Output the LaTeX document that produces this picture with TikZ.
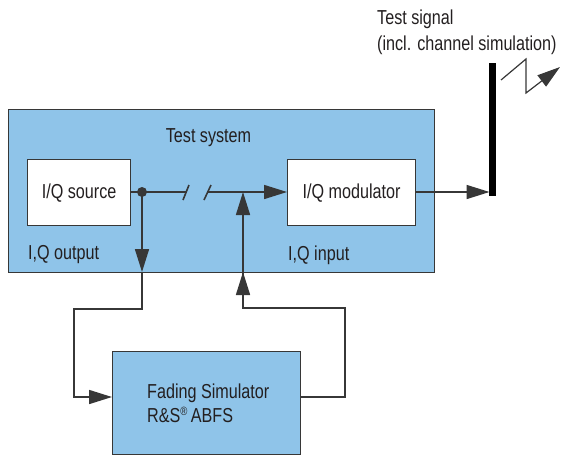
\documentclass[tikz,border=0pt]{standalone}
\usepackage{fontspec}
\setmainfont{Liberation Sans}[FakeStretch=0.8]
\usetikzlibrary{arrows.meta,calc}
\definecolor{sysblue}{RGB}{143,196,233}
\definecolor{ln}{RGB}{55,55,55}
\definecolor{txt}{RGB}{35,31,32}
\begin{document}
\begin{tikzpicture}[x=1pt,y=-1pt,
  font=\fontsize{20.2}{26}\selectfont, text=txt,
  box/.style={draw=ln, line width=1.2pt, rectangle, anchor=north west, inner sep=0pt},
  wire/.style={draw=ln, line width=1.6pt},
  arr/.style={wire, -{Triangle[length=23pt,width=14pt]}},
  lbl/.style={anchor=base west, inner sep=0pt},
  dotstyle/.style={circle, fill=ln, inner sep=0pt, minimum size=10pt}]
\useasboundingbox (0,0) rectangle (572,456);
% boxes
\node[box, fill=sysblue, minimum width=426pt, minimum height=163pt] (sys) at (8,109) {};
\node[box, fill=white, minimum width=103pt, minimum height=66pt] (src) at (27,159) {I/Q source};
\node[box, fill=white, minimum width=128pt, minimum height=66pt] (mod) at (287,159) {I/Q modulator};
\node[box, fill=sysblue, minimum width=188pt, minimum height=103pt] (fad) at (112,351) {};
% labels
\node[anchor=base, inner sep=0pt] (systxt) at (208.5,142) {Test system};
\node[lbl] (outtxt) at (28,259) {I,Q output};
\node[lbl] (intxt) at (288,260) {I,Q input};
\node[lbl] (fad1) at (147,398) {Fading Simulator};
\node[lbl] (fad2) at (147,422) {R\&S\raisebox{0.6ex}{\fontsize{12}{12}\selectfont ®}\,ABFS};
\node[lbl] (sig1) at (377,24) {Test signal};
\node[lbl] (sig2) at (377,50) {(incl. channel simulation)};
% coordinates
\coordinate (dot) at (142,192);
\coordinate (s1) at (186,192);
\coordinate (s2) at (208,192);
\coordinate (outb) at (142,272);
\coordinate (o1) at (142,309);
\coordinate (o2) at (74,309);
\coordinate (o3) at (74,397);
\coordinate (fin) at (112,397);
\coordinate (fout) at (300,397);
\coordinate (r1) at (345,397);
\coordinate (r2) at (345,308);
\coordinate (r3) at (243,308);
\coordinate (inb) at (243,272);
\coordinate (inj) at (243,192);
\coordinate (antT) at (492.5,63);
\coordinate (antB) at (492.5,195.5);
\coordinate (antIn) at (489.5,192);
\coordinate (z1) at (501,80);
\coordinate (z2) at (526,59);
\coordinate (z3) at (526,93);
\coordinate (z4) at (560,67);
% connectors
\draw[wire] (src.east |- dot) -- (dot) -- (s1);
\draw[wire] (183,200) -- (189,185);
\draw[wire] (204,200) -- (211,185);
\draw[arr] (s2) -- (mod.west |- dot);
\node[dotstyle] (dotn) at (dot) {};
\draw[arr] (dot) -- (outb);
\draw[arr] (outb) -- (o1) -- (o2) -- (o3) -- (fin);
\draw[wire] (fout) -- (r1) -- (r2) -- (r3) -- (inb);
\draw[arr] (r3) -- (inb);
\draw[arr] (inb) -- (inj);
\draw[arr] (mod.east |- dot) -- (antIn);
\draw[line width=6.5pt, black] (antT) -- (antB);
\draw[draw=ln, line width=1.2pt, -{Triangle[length=23pt,width=14pt]}] (z1) -- (z2) -- (z3) -- (z4);
\end{tikzpicture}
\end{document}
